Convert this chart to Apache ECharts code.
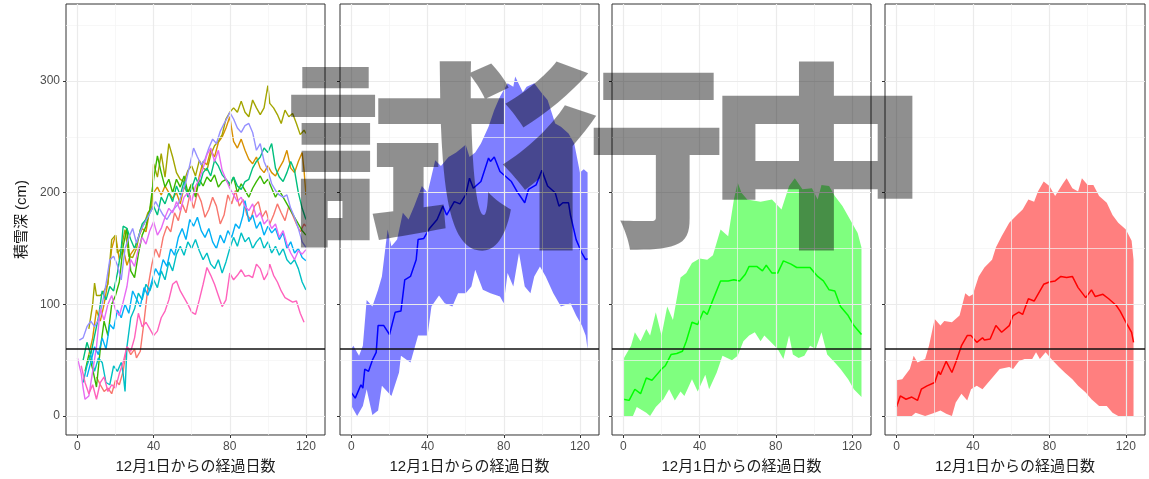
<!DOCTYPE html>
<html>
<head>
<meta charset="utf-8">
<title>積雪深</title>
<script src="https://cdn.jsdelivr.net/npm/echarts@6/dist/echarts.min.js"></script>
<style>
  html, body { margin: 0; padding: 0; background: #fff; }
  #chart { width: 1149px; height: 479px; }
</style>
</head>
<body>
<div id="chart"></div>
<script>
// ---- axis ticks / reference level ----
const xMajor = [0, 40, 80, 120]
const xMinor = [20, 60, 100]
const yMajor = [0, 100, 200, 300]
const yMinor = [50, 150, 250, 350]
const referenceLevel = 60
const xTitle = '12月1日からの経過日数'
const yTitle = '積雪深 (cm)'
const watermarkChars = ['試', '行', '中']

// ---- panel 1: individual members [day, cm] ----
const memberSalmon = [[10,35],[12,28],[14,22],[16,25],[18,20],[20,32],[22,28],[24,40],[25,52],[26,62],[28,55],[30,60],[31,52],[33,58],[35,85],[37,115],[39,135],[41,150],[43,142],[45,160],[47,170],[49,165],[51,182],[53,175],[55,190],[57,182],[59,198],[61,186],[63,200],[65,192],[67,178],[69,185],[71,196],[73,188],[75,172],[77,180],[79,198],[81,190],[83,202],[85,188],[87,194],[89,180],[91,176],[93,188],[95,192],[97,178],[99,184],[101,172],[103,180],[105,190],[107,182],[109,175],[111,188],[113,180],[115,172],[117,165],[119,172],[120,170]]
const memberOrange = [[6,55],[8,70],[10,95],[12,85],[14,100],[16,120],[18,150],[20,162],[22,140],[24,150],[26,135],[28,145],[30,150],[32,160],[34,168],[36,165],[38,185],[40,200],[42,205],[44,198],[46,206],[48,200],[50,195],[52,200],[54,190],[56,205],[58,200],[60,208],[62,198],[64,215],[66,228],[68,225],[70,238],[72,232],[74,245],[76,250],[78,258],[80,268],[82,246],[84,240],[86,248],[88,238],[90,230],[92,226],[94,232],[96,222],[98,218],[100,224],[102,218],[104,215],[106,222],[108,228],[110,238],[112,222],[114,218],[116,228],[118,236],[119,220],[120,198]]
const memberOlive = [[6,78],[8,100],[9,119],[10,108],[12,108],[14,112],[16,118],[18,158],[20,162],[21,146],[23,150],[25,167],[27,143],[29,142],[31,150],[33,167],[35,172],[37,182],[39,186],[40,226],[42,214],[44,235],[46,214],[48,244],[50,232],[52,218],[54,212],[56,210],[58,220],[60,224],[62,215],[64,229],[66,222],[68,220],[70,234],[72,242],[74,246],[76,252],[78,266],[80,272],[82,276],[84,272],[86,282],[88,272],[90,268],[92,283],[94,276],[96,270],[98,276],[100,296],[101,280],[103,276],[105,270],[107,262],[109,274],[111,268],[113,271],[115,262],[117,252],[119,256],[120,253]]
const memberGreen = [[4,40],[6,55],[8,42],[10,26],[12,60],[14,85],[16,72],[18,100],[20,108],[22,120],[24,152],[26,168],[28,130],[30,124],[32,145],[34,162],[36,170],[38,185],[40,212],[42,233],[44,218],[46,205],[48,212],[50,200],[52,212],[54,205],[56,215],[58,200],[60,208],[62,196],[64,212],[66,206],[68,214],[70,210],[72,216],[74,205],[76,210],[78,212],[80,206],[82,214],[84,200],[86,208],[88,202],[90,196],[92,204],[94,210],[96,215],[98,208],[100,212],[102,204],[104,196],[106,202],[108,196],[110,190],[112,184],[114,178],[116,172],[118,166],[120,162]]
const memberTeal = [[3,50],[5,66],[7,55],[9,72],[11,88],[13,112],[15,104],[17,116],[19,112],[21,128],[23,150],[24,170],[26,168],[28,158],[30,150],[32,160],[34,172],[36,176],[38,182],[40,188],[42,180],[44,196],[46,190],[48,200],[50,192],[52,206],[54,198],[56,210],[58,196],[60,204],[62,214],[64,206],[66,218],[68,222],[70,215],[72,229],[74,224],[76,216],[78,212],[80,208],[82,214],[84,206],[86,203],[88,210],[90,212],[92,222],[94,228],[96,232],[98,240],[100,236],[102,244],[104,222],[106,214],[108,210],[110,218],[112,228],[114,220],[116,200],[118,186],[120,176]]
const memberCyan = [[3,30],[5,45],[7,55],[9,40],[11,52],[13,48],[15,30],[17,28],[19,45],[21,40],[23,48],[24,38],[25,22],[26,62],[28,88],[30,96],[32,110],[34,104],[36,118],[38,112],[40,122],[42,115],[44,130],[46,122],[48,138],[50,130],[52,145],[54,152],[56,144],[58,156],[60,150],[62,158],[64,148],[66,140],[68,146],[70,136],[72,132],[74,140],[76,128],[78,138],[80,150],[82,160],[84,152],[86,164],[88,156],[90,160],[92,150],[94,156],[96,160],[98,150],[100,156],[102,146],[104,152],[106,144],[108,150],[110,140],[112,136],[114,140],[116,132],[118,120],[120,113]]
const memberBlue = [[5,35],[7,48],[9,62],[11,55],[13,70],[15,60],[17,82],[19,78],[21,95],[23,88],[25,100],[27,92],[29,112],[31,105],[33,98],[35,115],[37,108],[39,120],[41,132],[43,126],[45,140],[47,134],[49,150],[51,144],[53,160],[55,168],[57,158],[59,176],[61,170],[63,178],[65,166],[67,160],[69,168],[71,156],[73,150],[75,162],[77,155],[79,166],[81,160],[83,172],[85,168],[87,180],[88,193],[90,174],[92,180],[94,168],[96,174],[98,162],[100,170],[102,164],[104,168],[106,158],[108,164],[110,150],[112,156],[114,146],[116,150],[118,142],[120,139]]
const memberLavender = [[1,68],[3,70],[5,80],[7,85],[9,80],[11,86],[13,100],[15,118],[17,140],[19,143],[21,135],[23,122],[25,150],[27,160],[29,168],[31,155],[33,165],[35,172],[37,178],[39,185],[41,192],[43,186],[45,180],[47,176],[49,182],[51,186],[53,190],[55,200],[57,210],[59,225],[61,240],[63,232],[65,225],[67,230],[69,240],[71,248],[73,244],[75,255],[77,262],[79,268],[80,272],[82,266],[84,258],[86,254],[88,260],[90,262],[92,254],[94,238],[96,244],[98,228],[100,220],[102,208],[104,202],[106,198],[108,196],[110,198],[112,186],[114,178],[116,168],[118,156],[120,151]]
const memberMagenta = [[0,52],[2,38],[3,25],[4,15],[6,18],[8,40],[10,62],[12,96],[14,86],[16,100],[18,108],[20,95],[22,90],[24,102],[26,116],[28,140],[30,134],[32,150],[34,160],[36,154],[38,166],[40,174],[42,162],[44,168],[46,178],[48,186],[50,182],[52,192],[54,184],[56,196],[58,200],[60,192],[62,206],[64,212],[66,222],[68,234],[70,240],[72,228],[74,238],[76,220],[78,212],[80,204],[82,198],[84,192],[86,196],[88,188],[90,184],[92,190],[94,178],[96,182],[98,172],[100,176],[102,168],[104,172],[106,160],[108,166],[110,154],[112,146],[114,140],[116,148],[118,145],[120,149]]
const memberPink = [[2,45],[4,30],[6,20],[8,28],[10,15],[12,30],[14,35],[16,22],[18,28],[20,25],[22,38],[24,48],[26,62],[28,58],[30,70],[32,92],[34,80],[36,84],[38,78],[40,72],[42,76],[44,88],[46,94],[48,104],[50,118],[52,121],[54,112],[56,106],[58,100],[60,93],[62,91],[64,104],[66,118],[68,133],[70,126],[72,118],[74,108],[76,98],[78,104],[80,128],[82,122],[84,126],[86,131],[88,125],[90,126],[92,124],[94,136],[96,132],[98,122],[100,128],[101,136],[103,126],[105,120],[107,112],[109,106],[111,104],[113,102],[115,103],[117,92],[119,84]]

const members = [memberSalmon, memberOrange, memberOlive, memberGreen, memberTeal,
  memberCyan, memberBlue, memberLavender, memberMagenta, memberPink]
const memberColors = ['#F8766D', '#D89000', '#A3A500', '#39B600', '#00BF7D',
  '#00BFC4', '#00B0F6', '#9590FF', '#E76BF3', '#FF62BC']

// ---- panel 2: blue ensemble ----
const blueMean = [[0,21],[2,16],[3,15],[5,28],[6,25],[7,42],[9,40],[11,50],[13,57],[14,81],[17,81],[20,73],[23,93],[26,94],[28,122],[31,125],[34,140],[35,158],[38,159],[41,168],[45,176],[48,188],[50,180],[54,192],[57,190],[60,198],[62,213],[64,204],[68,210],[72,231],[73,228],[75,232],[78,219],[84,210],[87,201],[91,191],[93,203],[97,207],[100,220],[103,206],[107,200],[109,188],[111,191],[114,191],[115,180],[118,158],[121,146],[123,140],[124,141]]
const blueUpper = [[0,60],[1,63],[4,54],[6,63],[8,104],[11,98],[14,113],[16,125],[19,167],[21,152],[24,158],[27,182],[30,176],[33,188],[37,206],[40,200],[44,229],[47,224],[51,232],[55,236],[60,243],[62,232],[65,236],[68,244],[72,259],[75,274],[78,286],[82,298],[85,295],[86,304],[90,290],[92,295],[96,298],[100,289],[103,283],[107,262],[110,259],[114,253],[117,244],[120,218],[122,221],[124,218]]
const blueLower = [[0,9],[3,0],[6,9],[8,24],[11,1],[14,5],[16,27],[21,18],[25,39],[26,54],[31,48],[33,60],[35,72],[40,72],[42,98],[46,108],[49,101],[53,98],[56,110],[60,110],[63,116],[65,131],[69,113],[73,110],[78,107],[80,101],[82,128],[85,116],[88,146],[91,116],[94,110],[96,125],[99,134],[102,125],[106,110],[110,98],[115,101],[118,90],[121,81],[123,72],[124,60]]

// ---- panel 3: green ensemble ----
const greenMean = [[0,15],[3,14],[6,24],[9,20],[12,34],[15,32],[20,42],[22,45],[25,55],[28,56],[31,58],[33,67],[36,84],[39,82],[42,94],[44,91],[47,104],[51,121],[55,121],[58,122],[61,121],[64,127],[66,134],[70,134],[73,130],[75,135],[78,128],[81,128],[84,139],[88,136],[91,133],[95,133],[98,133],[102,125],[105,121],[108,113],[111,112],[114,98],[118,90],[121,81],[125,73]]
const greenUpper = [[0,51],[4,63],[6,75],[9,67],[12,78],[14,72],[17,93],[20,72],[23,98],[26,86],[30,124],[33,128],[36,137],[40,141],[44,140],[47,144],[51,167],[55,161],[58,194],[60,209],[62,200],[65,194],[72,192],[78,194],[83,185],[87,206],[90,213],[94,203],[99,204],[102,194],[104,207],[108,206],[111,197],[115,188],[119,176],[123,164],[125,151]]
const greenLower = [[0,0],[5,0],[7,8],[12,3],[14,0],[17,8],[21,15],[24,24],[27,14],[30,22],[32,18],[36,33],[39,22],[43,37],[45,24],[49,39],[52,54],[57,50],[60,54],[63,67],[66,72],[69,75],[72,67],[74,72],[77,67],[81,60],[84,51],[87,72],[89,55],[92,52],[95,54],[98,63],[101,60],[104,75],[107,55],[111,48],[114,42],[118,33],[121,24],[125,17]]

// ---- panel 4: red ensemble ----
const redMean = [[0,8],[2,18],[5,15],[8,17],[11,14],[13,24],[16,27],[20,30],[22,40],[23,37],[26,49],[29,39],[31,48],[34,63],[37,72],[39,72],[42,66],[45,70],[46,68],[49,69],[52,81],[55,75],[59,81],[61,90],[64,93],[66,91],[69,105],[72,103],[74,109],[77,118],[80,120],[83,121],[86,125],[89,124],[92,125],[95,115],[99,106],[102,113],[104,107],[108,109],[111,105],[115,99],[117,94],[120,84],[123,75],[124,66]]
const redUpper = [[0,32],[3,33],[7,42],[9,54],[11,48],[15,51],[17,63],[20,87],[23,81],[25,85],[29,84],[33,90],[36,110],[38,107],[40,109],[43,125],[46,133],[50,140],[52,151],[55,161],[59,173],[63,180],[66,185],[69,194],[72,192],[74,201],[77,210],[80,206],[83,197],[87,208],[89,213],[92,204],[95,201],[97,213],[100,207],[103,207],[106,197],[110,191],[113,180],[116,173],[120,167],[123,157],[124,140]]
const redLower = [[0,0],[8,0],[10,3],[15,0],[20,3],[23,5],[26,2],[29,0],[31,12],[34,20],[37,14],[39,24],[42,27],[45,24],[49,32],[52,38],[54,42],[59,44],[61,42],[64,49],[67,51],[71,51],[73,57],[75,51],[78,57],[81,51],[85,44],[88,39],[92,33],[95,27],[99,21],[102,15],[106,9],[110,9],[113,3],[116,0],[124,0]]

const ensembles = [
  { mean: blueMean, upper: blueUpper, lower: blueLower, line: '#0000FF', fill: 'rgba(0,0,255,0.5)' },
  { mean: greenMean, upper: greenUpper, lower: greenLower, line: '#00FF00', fill: 'rgba(0,255,0,0.5)' },
  { mean: redMean, upper: redUpper, lower: redLower, line: '#FF0000', fill: 'rgba(255,0,0,0.5)' },
]

// ------------------------------------------------------------------
// layout
// ------------------------------------------------------------------
const FONT = '"Liberation Sans", "Noto Sans CJK JP", sans-serif'
const panelBoxes = [
  { left: 66, width: 259 },
  { left: 340, width: 259 },
  { left: 612, width: 259 },
  { left: 885, width: 260 },
]

const grids = panelBoxes.map((p) => ({
  left: p.left, width: p.width, top: 4, height: 432,
  show: true, backgroundColor: '#fff', borderColor: '#333', borderWidth: 1,
}))

const xAxes = panelBoxes.map((p, i) => ({
  type: 'value', gridIndex: i, min: -6, max: 130,
  axisLine: { show: false, onZero: false },
  axisTick: { show: true, length: 3, customValues: xMajor, lineStyle: { color: '#333' } },
  axisLabel: { customValues: xMajor, color: '#4D4D4D', fontSize: 12, margin: 6, fontFamily: FONT },
  splitLine: { show: false },
  name: xTitle, nameLocation: 'middle', nameGap: 24,
  nameTextStyle: { color: '#1a1a1a', fontSize: 15, fontFamily: FONT },
}))

const yAxes = panelBoxes.map((p, i) => ({
  type: 'value', gridIndex: i, min: -17, max: 369,
  axisLine: { show: false, onZero: false },
  axisTick: { show: true, length: 3, customValues: yMajor, lineStyle: { color: '#333' } },
  axisLabel: { show: i === 0, customValues: yMajor, color: '#4D4D4D', fontSize: 12, margin: 6, fontFamily: FONT },
  splitLine: { show: false },
  name: i === 0 ? yTitle : '', nameLocation: 'middle', nameGap: 37, nameRotate: 90,
  nameTextStyle: { color: '#1a1a1a', fontSize: 15, fontFamily: FONT },
}))

// grid lines drawn as markLines through each panel's own scales
function gridLineSeries(i) {
  const minorStyle = { color: '#F4F4F4', width: 0.7, type: 'solid' }
  const majorStyle = { color: '#EBEBEB', width: 1.2, type: 'solid' }
  return {
    type: 'line', xAxisIndex: i, yAxisIndex: i, data: [[-100, -100]],
    symbol: 'none', silent: true, z: 0, lineStyle: { opacity: 0 },
    markLine: {
      silent: true, symbol: ['none', 'none'], label: { show: false },
      data: [
        ...yMinor.map((v) => ({ yAxis: v, lineStyle: minorStyle })),
        ...xMinor.map((v) => ({ xAxis: v, lineStyle: minorStyle })),
        ...yMajor.map((v) => ({ yAxis: v, lineStyle: majorStyle })),
        ...xMajor.map((v) => ({ xAxis: v, lineStyle: majorStyle })),
      ],
    },
  }
}

function referenceSeries(i) {
  return {
    type: 'line', xAxisIndex: i, yAxisIndex: i, data: [[-100, -100]],
    symbol: 'none', silent: true, z: 5, lineStyle: { opacity: 0 },
    markLine: {
      silent: true, symbol: ['none', 'none'], label: { show: false },
      data: [{ yAxis: referenceLevel }],
      lineStyle: { color: '#111', width: 1.6, type: 'solid' },
    },
  }
}

function ribbonSeries(ens, i) {
  return {
    type: 'custom', xAxisIndex: i, yAxisIndex: i, data: [[0, 0]], silent: true, z: 1,
    renderItem(params, api) {
      const pts = ens.upper.map((p) => api.coord(p))
        .concat(ens.lower.slice().reverse().map((p) => api.coord(p)))
      return { type: 'polygon', shape: { points: pts }, style: { fill: ens.fill } }
    },
  }
}

const series = []
for (let i = 0; i < 4; i++) series.push(gridLineSeries(i))

members.forEach((m, k) => {
  series.push({
    type: 'line', xAxisIndex: 0, yAxisIndex: 0, data: m,
    symbol: 'none', z: 2, lineStyle: { color: memberColors[k], width: 1.4 },
  })
})

ensembles.forEach((ens, k) => {
  series.push(ribbonSeries(ens, k + 1))
  series.push({
    type: 'line', xAxisIndex: k + 1, yAxisIndex: k + 1, data: ens.mean,
    symbol: 'none', z: 3, lineStyle: { color: ens.line, width: 1.5 },
  })
})

for (let i = 0; i < 4; i++) series.push(referenceSeries(i))

// watermark, one glyph at a time (wide, heavy gothic)
const watermarkCenters = [399, 614, 817]
const watermark = watermarkChars.map((ch, k) => ({
  type: 'text', x: watermarkCenters[k], y: 156, z: 100, silent: true,
  scaleX: 1.08, scaleY: 0.94,
  style: {
    text: ch, align: 'center', verticalAlign: 'middle',
    font: '900 210px "Noto Sans CJK JP", sans-serif',
    fill: 'rgba(0,0,0,0.44)',
  },
}))

const chart = echarts.init(document.getElementById('chart'))
chart.setOption({
  animation: false,
  backgroundColor: '#fff',
  grid: grids,
  xAxis: xAxes,
  yAxis: yAxes,
  series,
  graphic: watermark,
})
</script>
</body>
</html>
